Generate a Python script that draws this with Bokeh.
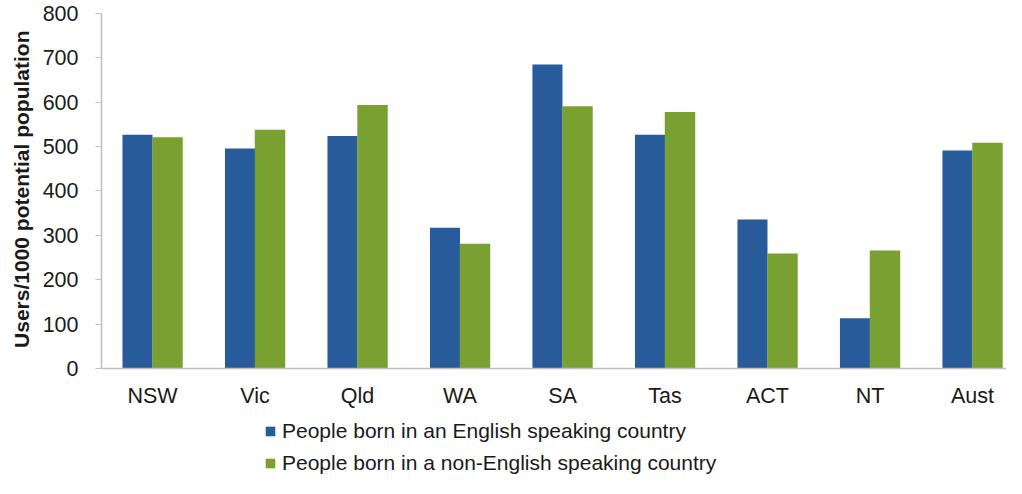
from bokeh.plotting import figure
from bokeh.models import ColumnDataSource, Range1d, FixedTicker, Legend, LegendItem, Title
from bokeh.transform import dodge
from bokeh.embed import file_html
from bokeh.resources import INLINE

categories = ["NSW", "Vic", "Qld", "WA", "SA", "Tas", "ACT", "NT", "Aust"]
english = [527, 496, 524, 317, 685, 527, 336, 113, 491]
non_english = [521, 538, 594, 281, 591, 578, 259, 266, 509]
series_names = ["People born in an English speaking country",
                "People born in a non-English speaking country"]
y_ticks = [0, 100, 200, 300, 400, 500, 600, 700, 800]
y_title = "Users/1000 potential population"

BLUE = "#285B9A"
GREEN = "#78A132"
AXIS = "#BFBFBF"
TXT = "#1a1a1a"
FONT = "Liberation Sans"

src = ColumnDataSource(dict(x=list(range(len(categories))), eng=english, neng=non_english))

# frame spans from top (800) down to the bottom of the canvas; the x axis sits at y=0
p = figure(width=1006, height=478, output_backend="svg", toolbar_location=None,
           x_range=Range1d(-0.4976, 8.332), y_range=Range1d(-247.9, 800),
           min_border_left=101, min_border_right=0, min_border_top=13, min_border_bottom=0)

r1 = p.vbar(x=dodge("x", -0.1465), top="eng", width=0.293, source=src,
            fill_color=BLUE, line_color=None)
r2 = p.vbar(x=dodge("x", 0.1465), top="neng", width=0.297, source=src,
            fill_color=GREEN, line_color=None)

p.outline_line_color = None
p.xgrid.visible = False
p.ygrid.visible = False
p.background_fill_color = "white"
p.border_fill_color = "white"

xa = p.xaxis[0]
xa.fixed_location = 0
xa.ticker = FixedTicker(ticks=list(range(len(categories))))
xa.major_label_overrides = {i: c for i, c in enumerate(categories)}
xa.major_tick_out = 0
xa.major_tick_in = 0
xa.minor_tick_out = 0
xa.minor_tick_in = 0
xa.major_label_standoff = 16
xa.axis_line_color = AXIS
xa.axis_line_width = 1.5
xa.major_label_text_font = FONT
xa.major_label_text_font_size = "21.5px"
xa.major_label_text_color = TXT

ya = p.yaxis[0]
ya.bounds = (0, 800)
ya.ticker = FixedTicker(ticks=y_ticks)
ya.major_tick_out = 6
ya.major_tick_in = 0
ya.minor_tick_out = 0
ya.minor_tick_in = 0
ya.major_tick_line_color = AXIS
ya.axis_line_color = AXIS
ya.axis_line_width = 1.5
ya.major_label_standoff = 17
ya.major_label_text_font = FONT
ya.major_label_text_font_size = "21.5px"
ya.major_label_text_color = TXT

# y-axis title, anchored to the top of the frame so it sits beside the 0..800 part
p.add_layout(Title(text=y_title, align="right", offset=17, standoff=14,
                   text_font=FONT, text_font_size="21px", text_font_style="bold",
                   text_color=TXT), "left")

legend = Legend(items=[LegendItem(label=series_names[0], renderers=[r1]),
                       LegendItem(label=series_names[1], renderers=[r2])],
                location=(163, 3), orientation="vertical",
                padding=0, margin=0, spacing=8, border_line_color=None,
                background_fill_alpha=0, glyph_width=12, glyph_height=12,
                label_height=20, label_standoff=6,
                label_text_font=FONT, label_text_font_size="21px",
                label_text_color=TXT)
p.add_layout(legend, "center")

open("out.html", "w").write(file_html(p, INLINE))
